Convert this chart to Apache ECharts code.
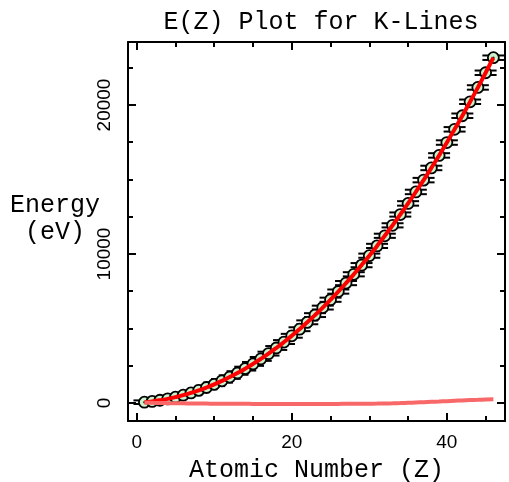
<!DOCTYPE html>
<html>
<head>
<meta charset="utf-8">
<script src="https://cdn.jsdelivr.net/npm/echarts@6/dist/echarts.min.js"></script>
<style>
html,body{margin:0;padding:0;background:#fff;}
#chart{width:509px;height:482px;}
</style>
</head>
<body>
<div id="chart"></div>
<script>
// Atomic number positions
const atomicNumber = [1,2,3,4,5,6,7,8,9,10,11,12,13,14,15,16,17,18,19,20,21,22,23,24,25,26,27,28,29,30,31,32,33,34,35,36,37,38,39,40,41,42,43,44,45,46];
// K-line energies (eV)
const energyEV = [54.3,108.5,183.3,277,392.4,524.9,676.8,848.6,1041.0,1253.6,1486.7,1740.0,2013.7,2307.8,2622.4,2957.7,3313.8,3691.7,4090.6,4510.8,4952.2,5414.7,5898.8,6403.8,6930.3,7478.2,8047.8,8638.9,9251.7,9886.4,10543.7,11222.4,11924.2,12649,13395.3,14165,14958.4,15775.1,16615.1,17479.3,18367.1,19279.2,20216.1,21177.1,22162.9,23173.6];
// Error bar half-heights (eV)
const energyErr = [120,120,120,120,120,120,120,120,120,120,120,120,120,130,130,130,130,130,130,130,130,130,130,130,140,140,140,140,140,140,140,140,140,140,150,150,150,150,150,150,150,150,150,150,150,150];
// Lower curve (eV)
const residualEV = [20,10,0,-10,-20,-25,-30,-35,-40,-45,-50,-50,-55,-55,-60,-60,-60,-60,-60,-60,-60,-60,-60,-60,-60,-60,-55,-55,-50,-45,-40,-30,-20,-5,15,35,55,80,100,125,150,170,195,215,235,255];

const errData = atomicNumber.map((z,i)=>[z, energyEV[i], energyErr[i]]);
const ptData = atomicNumber.map((z,i)=>[z, energyEV[i]]);
const resData = atomicNumber.map((z,i)=>[z, residualEV[i]]);

const chart = echarts.init(document.getElementById('chart'), null, {renderer:'canvas'});
const mono = '"Liberation Mono", "DejaVu Sans Mono", monospace';
const sans = '"Liberation Sans", Arial, sans-serif';
const lineBlack = {color:'#000', width:2};

const X_MIN = -1.12, X_MAX = 47.5, Y_MIN = -1208, Y_MAX = 24228;

function xAxisCfg(pos, labels){
  return {
    type:'value', position:pos, min:X_MIN, max:X_MAX, splitNumber:2,
    axisLine:{show:true, onZero:false, lineStyle:lineBlack},
    axisTick:{show:true, inside:true, length:8, lineStyle:lineBlack},
    minorTick:{show:true, splitNumber:4, length:5, lineStyle:lineBlack},
    splitLine:{show:false},
    axisLabel:{show:labels, showMinLabel:false, showMaxLabel:false, color:'#000', fontFamily:sans, fontSize:19, margin:12,
      formatter:v=> (Math.abs(v % 20) < 1e-6 ? String(v) : '')}
  };
}
function yAxisCfg(pos, labels){
  return {
    type:'value', position:pos, min:Y_MIN, max:Y_MAX, splitNumber:2,
    axisLine:{show:true, onZero:false, lineStyle:lineBlack},
    axisTick:{show:true, inside:true, length:8, lineStyle:lineBlack},
    minorTick:{show:true, splitNumber:4, length:5, lineStyle:lineBlack},
    splitLine:{show:false},
    axisLabel:{show:labels, showMinLabel:false, showMaxLabel:false, rotate:90, color:'#000', fontFamily:sans, fontSize:19, margin:14,
      formatter:v=> (Math.abs(v % 10000) < 1e-6 ? String(v) : '')}
  };
}

const xb = xAxisCfg('bottom', true);
xb.name = 'Atomic Number (Z)';
xb.nameLocation = 'middle';
xb.nameGap = 37;
xb.nameTextStyle = {fontFamily:mono, fontSize:25, color:'#000'};

chart.setOption({
  animation:false,
  backgroundColor:'#fff',
  title:{text:'E(Z) Plot for K-Lines', left:316, top:5, textAlign:'center',
    textStyle:{fontFamily:mono, fontSize:25, fontWeight:'normal', color:'#000'}},
  graphic:[{type:'text', left:10, top:192,
    style:{text:'Energy\n (eV)', font:'25px ' + mono, fill:'#000', lineHeight:27}}],
  grid:{left:128, top:42, right:4, bottom:61, containLabel:false, outerBoundsMode:'none'},
  xAxis:[xb, xAxisCfg('top', false)],
  yAxis:[yAxisCfg('left', true), yAxisCfg('right', false)],
  series:[
    {
      type:'custom', z:1, data:errData, encode:{x:0, y:1},
      renderItem:function(params, api){
        const x = api.value(0), y = api.value(1), e = api.value(2);
        const t = api.coord([x, y+e]);
        const b = api.coord([x, y-e]);
        const hw = 11;
        const st = {stroke:'#000', lineWidth:2};
        return {type:'group', children:[
          {type:'line', shape:{x1:t[0], y1:t[1], x2:b[0], y2:b[1]}, style:st},
          {type:'line', shape:{x1:t[0]-hw, y1:t[1], x2:t[0]+hw, y2:t[1]}, style:st},
          {type:'line', shape:{x1:b[0]-hw, y1:b[1], x2:b[0]+hw, y2:b[1]}, style:st}
        ]};
      }
    },
    {
      type:'scatter', z:2, data:ptData, symbol:'circle', symbolSize:11,
      itemStyle:{color:'#ccf2cc', borderColor:'#000', borderWidth:1.8, opacity:1}
    },
    {
      type:'scatter', z:3, data:ptData, symbol:'circle', symbolSize:2.5,
      itemStyle:{color:'#000'}
    },
    {
      type:'line', z:4, data:ptData, smooth:true, showSymbol:false, symbol:'none',
      lineStyle:{color:'#ff0000', width:4}
    },
    {
      type:'line', z:4, data:resData, smooth:true, showSymbol:false, symbol:'none',
      lineStyle:{color:'#f86868', width:4}
    }
  ]
});
</script>
</body>
</html>
